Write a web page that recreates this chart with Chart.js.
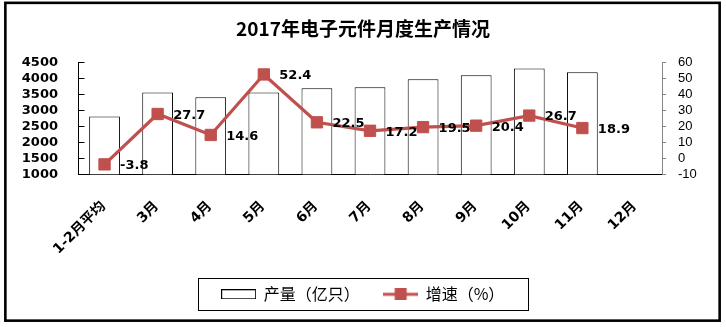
<!DOCTYPE html>
<html><head><meta charset="utf-8">
<script src="https://cdn.jsdelivr.net/npm/chart.js@4/dist/chart.umd.min.js"></script>
<style>html,body{margin:0;padding:0;background:#fff}canvas{display:block}</style>
</head><body>
<canvas id="c" width="726" height="327"></canvas>
<script>
const titleText = '2017年电子元件月度生产情况';
const categories = ['1-2月平均','3月','4月','5月','6月','7月','8月','9月','10月','11月','12月'];
const output = [2810, 3560, 3405, 3560, 3690, 3720, 3970, 4095, 4310, 4190, null];
const growth = [-3.8, 27.7, 14.6, 52.4, 22.5, 17.2, 19.5, 20.4, 26.7, 18.9, null];
const leftTicks = [1000, 1500, 2000, 2500, 3000, 3500, 4000, 4500];
const rightTicks = [-10, 0, 10, 20, 30, 40, 50, 60];
const seriesNames = ['产量（亿只）', '增速（%）'];

const RED = '#C0504D';
const numFont = 'DejaVu Sans, Noto Sans CJK SC, sans-serif';
const cjkFont = 'Noto Sans CJK SC, sans-serif';

function barIcon() {
  const c = document.createElement('canvas'); c.width = 35; c.height = 10;
  const x = c.getContext('2d'); x.fillStyle = '#fff'; x.fillRect(0, 0, 35, 10);
  x.strokeStyle = '#000'; x.lineWidth = 1; x.strokeRect(0.5, 0.5, 34, 9); return c;
}
function lineIcon() {
  const c = document.createElement('canvas'); c.width = 35; c.height = 12;
  const x = c.getContext('2d'); x.fillStyle = RED; x.fillRect(0, 4.5, 35, 3); x.fillRect(11.5, 0, 12, 12); return c;
}
const icons = [barIcon(), lineIcon()];

const framePlugin = {
  id: 'framePlugin',
  beforeDraw(chart) {
    const c = chart.ctx; c.save(); c.fillStyle = '#fff'; c.fillRect(0, 0, chart.width, chart.height); c.restore();
  },
  afterDraw(chart) {
    const c = chart.ctx; c.save();
    c.strokeStyle = '#000'; c.lineWidth = 2.6; c.strokeRect(5.35, 2.85, 714.3, 317.8);
    const hb = chart.legend.legendHitBoxes;
    if (hb && hb.length) {
      const l = hb[0].left - 23.8, r = hb[hb.length - 1].left + hb[hb.length - 1].width + 23, t = hb[0].top - 8;
      c.lineWidth = 1; c.strokeRect(Math.round(l) + 0.5, Math.round(t) + 0.5, Math.round(r - l), 32);
    }
    const y = chart.scales.y; c.strokeStyle = '#000'; c.lineWidth = 1; c.beginPath();
    y.ticks.forEach((t, i) => { const py = Math.round(y.getPixelForTick(i)) + 0.5; c.moveTo(y.right, py); c.lineTo(y.right + 6.5, py); });
    c.stroke(); c.restore();
  }
};

const labelPlugin = {
  id: 'labelPlugin',
  afterDatasetsDraw(chart) {
    const c = chart.ctx; const meta = chart.getDatasetMeta(1);
    c.save(); c.fillStyle = '#000'; c.font = 'bold 13px ' + numFont; c.textAlign = 'left'; c.textBaseline = 'middle';
    meta.data.forEach((pt, i) => {
      const v = growth[i]; if (v === null || v === undefined) return;
      c.fillText(v.toFixed(1), pt.x + 15.5, pt.y + 1.5);
    });
    c.restore();
  }
};

new Chart(document.getElementById('c'), {
  data: {
    labels: categories,
    datasets: [
      { type: 'bar', label: seriesNames[0], data: output, yAxisID: 'y', order: 2,
        backgroundColor: '#fff', borderColor: '#000', borderWidth: 1,
        barPercentage: 0.58, categoryPercentage: 1 },
      { type: 'line', label: seriesNames[1], data: growth, yAxisID: 'y1', order: 1,
        borderColor: RED, borderWidth: 3.2, backgroundColor: RED,
        pointStyle: 'rect', pointRadius: 8, pointBackgroundColor: RED, pointBorderColor: RED, pointBorderWidth: 1,
        tension: 0, spanGaps: false }
    ]
  },
  options: {
    responsive: false, devicePixelRatio: 1, animation: false,
    layout: { padding: { left: 0, right: 0, top: 0, bottom: 14.7 } },
    plugins: {
      tooltip: { enabled: false },
      title: { display: true, text: titleText, color: '#000',
        font: { family: cjkFont, size: 19, weight: 'bold', lineHeight: 1.2 },
        padding: { top: 16.9, bottom: 22.6 } },
      legend: { position: 'bottom', align: 'center',
        labels: { usePointStyle: true, pointStyleWidth: 34, padding: 24, color: '#000',
          font: { family: cjkFont, size: 16 },
          sort: (a, b) => a.datasetIndex - b.datasetIndex,
          generateLabels(chart) {
            const items = Chart.defaults.plugins.legend.labels.generateLabels(chart);
            return items.map(it => Object.assign(it, { pointStyle: icons[it.datasetIndex], fontColor: '#000' }));
          } } }
    },
    scales: {
      x: { grid: { display: false, drawTicks: false }, border: { color: '#000', width: 1 },
        ticks: { autoSkip: false, maxRotation: 45, minRotation: 45, padding: 24, labelOffset: -1, color: '#000',
          font: { family: numFont, size: 14, weight: 'bold' } },
        afterFit(s) { s.height = 88; } },
      y: { position: 'left', min: 1000, max: 4500,
        grid: { display: false, drawTicks: false }, border: { color: '#000', width: 1 },
        afterBuildTicks(s) { s.ticks = leftTicks.map(v => ({ value: v })); },
        ticks: { autoSkip: false, padding: 20, color: '#000', callback: v => String(v),
          font: { family: numFont, size: 13, weight: 'bold' } },
        afterFit(s) { s.width = 78; } },
      y1: { position: 'right', min: -10, max: 60,
        grid: { drawOnChartArea: false, drawTicks: true, tickLength: 4, color: '#868686' },
        border: { color: '#868686', width: 1 },
        afterBuildTicks(s) { s.ticks = rightTicks.map(v => ({ value: v })); },
        ticks: { autoSkip: false, padding: 12, color: '#000', callback: v => String(v),
          font: { family: 'Liberation Sans, sans-serif', size: 13 } },
        afterFit(s) { s.width = 64; } }
    }
  },
  plugins: [framePlugin, labelPlugin]
});
</script>
</body></html>
